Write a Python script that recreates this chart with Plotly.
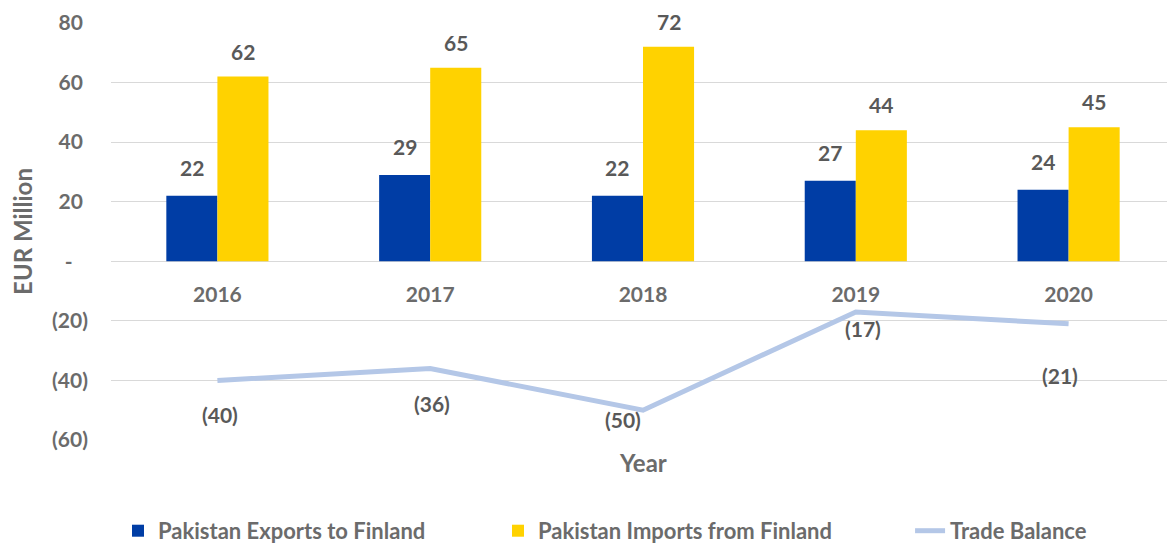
import plotly.graph_objects as go

years = ["2016", "2017", "2018", "2019", "2020"]
exports = [22, 29, 22, 27, 24]
imports = [62, 65, 72, 44, 45]
balance = [-40, -36, -50, -17, -21]
y_ticks = [-60, -40, -20, 0, 20, 40, 60, 80]
y_ticktext = ["(60)", "(40)", "(20)", "-\u00a0\u00a0\u00a0", "20\u00a0", "40\u00a0", "60\u00a0", "80\u00a0"]

# label offsets (pixels) for the trade-balance labels
bal_xshift = [3, 2, -20, 7, -9]
bal_yshift = [-34, -35, -9, -17, -52]

FONT = "Lato"
GREY = "#6b6b6b"
LABEL = "#595959"
BLUE = "#003DA5"
YELLOW = "#FFD200"
LINE = "#B4C7E7"

Y_MIN, Y_MAX = -60, 80
BARGAP = 0.52
xi = list(range(len(years)))
half = (1 - BARGAP) / 4  # center offset of each bar in a group of two

fig = go.Figure()
fig.add_trace(go.Bar(x=xi, y=exports, name="Pakistan Exports to Finland", legend="legend",
                     showlegend=True, marker=dict(color=BLUE, line=dict(width=0))))
fig.add_trace(go.Bar(x=xi, y=imports, name="Pakistan Imports from Finland", legend="legend2",
                     showlegend=True, marker=dict(color=YELLOW, line=dict(width=0))))
fig.add_trace(go.Scatter(x=xi, y=balance, name="Trade Balance", mode="lines", legend="legend3",
                         showlegend=True, line=dict(color=LINE, width=5)))

lab_font = dict(family=FONT, size=21, color=LABEL, weight="bold")
ann = []
for i, v in enumerate(exports):
    ann.append(dict(x=i - half, y=v, text=str(v), yanchor="bottom", yshift=14,
                    showarrow=False, font=lab_font))
for i, v in enumerate(imports):
    ann.append(dict(x=i + half, y=v, text=str(v), yanchor="bottom", yshift=11,
                    showarrow=False, font=lab_font))
for i, v in enumerate(balance):
    ann.append(dict(x=i, y=v, text=f"({abs(v)})", yanchor="middle",
                    xshift=bal_xshift[i], yshift=bal_yshift[i],
                    showarrow=False, font=lab_font))
ann.append(dict(xref="paper", yref="paper", x=0.5, y=-0.053, text="Year",
                yanchor="middle", showarrow=False,
                font=dict(family=FONT, size=24, color=GREY, weight="bold")))

leg_font = dict(family=FONT, size=22, color=GREY, weight="bold")
leg_common = dict(orientation="h", y=-0.218, xanchor="left", yanchor="middle",
                  font=leg_font, bgcolor="rgba(0,0,0,0)", visible=True)

fig.update_layout(
    width=1167, height=537,
    margin=dict(l=103, r=0, t=15, b=105, autoexpand=False),
    paper_bgcolor="white", plot_bgcolor="white",
    showlegend=True,
    barmode="group", bargap=BARGAP, bargroupgap=0,
    font=dict(family=FONT, color=GREY, size=21, weight="bold"),
    annotations=ann,
    legend=dict(x=0.0066, **leg_common),
    legend2=dict(x=0.3637, **leg_common),
    legend3=dict(x=0.751, **leg_common),
    xaxis=dict(tickvals=xi, ticktext=years, range=[-0.5, len(years) - 0.5],
               anchor="free", position=(0 - Y_MIN) / (Y_MAX - Y_MIN),
               showgrid=False, showline=False, zeroline=False, ticks="",
               ticklabelstandoff=19,
               tickfont=dict(family=FONT, size=21, color=GREY, weight="bold")),
    yaxis=dict(range=[Y_MIN, Y_MAX], tickvals=y_ticks, ticktext=y_ticktext,
               showgrid=True, gridcolor="#d9d9d9", gridwidth=1,
               zeroline=False, showline=False, ticks="",
               ticklabelstandoff=22,
               tickfont=dict(family=FONT, size=21, color=GREY, weight="bold"),
               title=dict(text="EUR Million", standoff=18,
                          font=dict(family=FONT, size=24, color=GREY, weight="bold"))),
)

fig.write_html("out.html")
